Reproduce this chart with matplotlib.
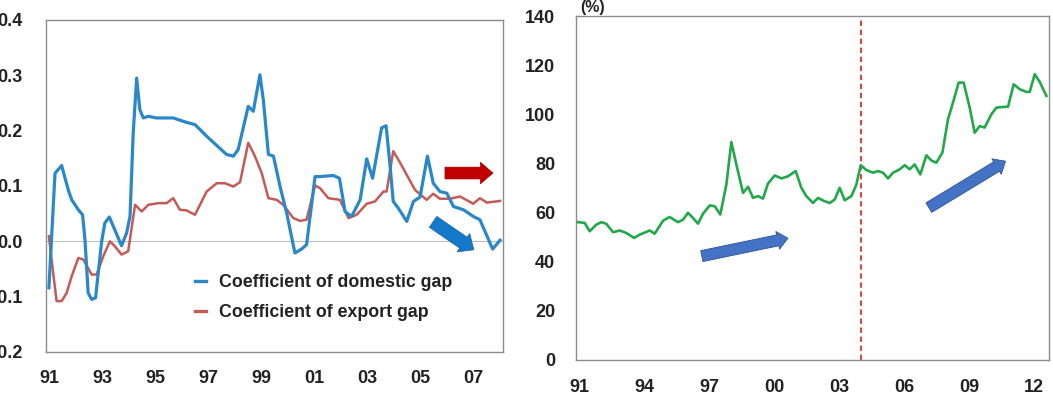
import matplotlib
matplotlib.use("Agg")
import matplotlib.pyplot as plt

# ---------------- data ----------------
dom_years = [1991.00, 1991.23, 1991.48, 1991.73, 1991.86, 1992.11, 1992.27, 1992.36, 1992.48, 1992.61,
             1992.76, 1992.99, 1993.11, 1993.28, 1993.43, 1993.74, 1993.93, 1994.06, 1994.18, 1994.31,
             1994.43, 1994.56, 1994.75, 1995.06, 1995.69, 1996.19, 1996.51, 1996.95, 1997.70, 1997.96,
             1998.14, 1998.52, 1998.71, 1998.96, 1999.09, 1999.28, 1999.47, 1999.72, 1999.97, 2000.28,
             2000.53, 2000.72, 2001.04, 2001.23, 2001.73, 2001.96, 2002.17, 2002.42, 2002.74, 2002.99,
             2003.21, 2003.55, 2003.72, 2003.87, 2003.99, 2004.18, 2004.50, 2004.75, 2005.00, 2005.28,
             2005.50, 2005.75, 2006.01, 2006.26, 2006.64, 2007.01, 2007.26, 2007.74, 2008.02]
dom_values = [-0.084, 0.123, 0.137, 0.093, 0.075, 0.057, 0.048, 0.003, -0.093, -0.105,
              -0.102, 0.000, 0.033, 0.044, 0.027, -0.008, 0.015, 0.045, 0.196, 0.295,
              0.238, 0.223, 0.226, 0.223, 0.223, 0.215, 0.211, 0.190, 0.157, 0.154,
              0.166, 0.244, 0.235, 0.301, 0.255, 0.157, 0.154, 0.099, 0.051, -0.021,
              -0.014, -0.006, 0.117, 0.117, 0.119, 0.114, 0.054, 0.045, 0.075, 0.149,
              0.114, 0.205, 0.209, 0.136, 0.072, 0.060, 0.036, 0.072, 0.080, 0.154,
              0.105, 0.090, 0.087, 0.063, 0.057, 0.045, 0.039, -0.014, 0.002]

exp_years = [1991.00, 1991.16, 1991.29, 1991.48, 1991.67, 1991.86, 1992.11, 1992.30, 1992.61, 1992.80,
             1993.05, 1993.30, 1993.49, 1993.74, 1993.99, 1994.25, 1994.50, 1994.75, 1995.13, 1995.44,
             1995.69, 1995.94, 1996.19, 1996.51, 1996.95, 1997.33, 1997.64, 1997.96, 1998.21, 1998.52,
             1998.77, 1999.03, 1999.28, 1999.59, 1999.84, 2000.22, 2000.47, 2000.72, 2001.04, 2001.23,
             2001.54, 2001.98, 2002.30, 2002.61, 2002.99, 2003.30, 2003.62, 2003.74, 2003.99, 2004.25,
             2004.50, 2004.81, 2005.25, 2005.50, 2005.75, 2006.13, 2006.51, 2007.01, 2007.26, 2007.52,
             2008.02]
exp_values = [0.009, -0.057, -0.108, -0.108, -0.093, -0.063, -0.030, -0.033, -0.060, -0.060,
              -0.027, 0.000, -0.009, -0.024, -0.018, 0.066, 0.054, 0.066, 0.069, 0.069,
              0.078, 0.057, 0.056, 0.048, 0.090, 0.105, 0.105, 0.099, 0.107, 0.178,
              0.154, 0.123, 0.078, 0.075, 0.066, 0.042, 0.037, 0.039, 0.101, 0.096,
              0.078, 0.075, 0.042, 0.048, 0.068, 0.072, 0.090, 0.090, 0.163, 0.142,
              0.120, 0.093, 0.075, 0.086, 0.077, 0.077, 0.081, 0.068, 0.078, 0.070,
              0.073]

ratio_years = [1990.95, 1991.26, 1991.49, 1991.80, 1992.03, 1992.26, 1992.57, 1992.88, 1993.18, 1993.54,
               1993.80, 1994.26, 1994.49, 1994.88, 1995.18, 1995.57, 1995.80, 1996.03, 1996.26, 1996.49,
               1996.72, 1997.03, 1997.26, 1997.52, 1997.80, 1998.03, 1998.26, 1998.57, 1998.80, 1999.03,
               1999.26, 1999.49, 1999.72, 2000.03, 2000.34, 2000.65, 2001.00, 2001.26, 2001.49, 2001.80,
               2002.03, 2002.26, 2002.57, 2002.80, 2003.03, 2003.26, 2003.57, 2003.80, 2004.00, 2004.26,
               2004.57, 2004.80, 2005.03, 2005.26, 2005.49, 2005.80, 2006.03, 2006.26, 2006.49, 2006.75,
               2007.03, 2007.26, 2007.49, 2007.77, 2008.03, 2008.26, 2008.52, 2008.75, 2009.03, 2009.26,
               2009.49, 2009.72, 2010.03, 2010.26, 2010.57, 2010.80, 2011.06, 2011.34, 2011.65, 2011.80,
               2012.03, 2012.26, 2012.57]
ratio_values = [56.1, 55.8, 52.4, 55.1, 56.1, 55.4, 52.0, 52.7, 51.7, 49.7,
                51.0, 52.7, 51.4, 56.7, 58.2, 56.1, 57.1, 59.9, 57.8, 55.5,
                59.5, 62.9, 62.6, 59.2, 71.4, 88.7, 79.6, 68.0, 70.5, 66.0,
                66.7, 65.7, 71.8, 75.1, 73.9, 74.8, 76.9, 70.1, 66.7, 63.9,
                66.0, 64.9, 63.9, 65.3, 70.1, 65.0, 66.7, 71.4, 79.3, 77.3,
                76.2, 76.9, 76.2, 73.9, 76.2, 77.6, 79.3, 77.6, 79.6, 75.5,
                83.3, 81.2, 80.3, 84.4, 98.0, 104.8, 112.9, 112.9, 102.7, 92.5,
                95.2, 94.6, 100.0, 102.7, 103.0, 103.1, 112.2, 110.2, 109.1, 109.1,
                116.3, 113.2, 107.5]

left_ticks = [1991, 1993, 1995, 1997, 1999, 2001, 2003, 2005, 2007]
left_ticklabels = ["91", "93", "95", "97", "99", "01", "03", "05", "07"]
left_yticks = [-0.2, -0.1, 0.0, 0.1, 0.2, 0.3, 0.4]
right_ticks = [1991, 1994, 1997, 2000, 2003, 2006, 2009, 2012]
right_ticklabels = ["91", "94", "97", "00", "03", "06", "09", "12"]
right_yticks = [0, 20, 40, 60, 80, 100, 120, 140]
break_year = 2004.0
legend_labels = ["Coefficient of domestic gap", "Coefficient of export gap"]

# ---------------- style ----------------
FONT = "Liberation Sans"
plt.rcParams["font.family"] = [FONT, "DejaVu Sans"]
plt.rcParams["font.weight"] = "bold"

BLUE = "#2A87C8"
RED = "#C55A57"
GREEN = "#22A84A"
SPINE = "#8C8C8C"
TXT = "#222222"

fig = plt.figure(figsize=(10.53, 3.99), dpi=100)
axL = fig.add_axes([46 / 1053, 47 / 399, 457 / 1053, 332 / 399])
axR = fig.add_axes([576 / 1053, 39 / 399, 473 / 1053, 344 / 399])

# ---- left panel ----
axL.axhline(0, color="#BDBDBD", lw=0.8, zorder=1)
axL.plot(dom_years, dom_values, color=BLUE, lw=2.3, label=legend_labels[0], zorder=3,
         solid_joinstyle="round")
axL.plot(exp_years, exp_values, color=RED, lw=1.8, label=legend_labels[1], zorder=2,
         solid_joinstyle="round")
axL.set_xlim(1990.89, 2008.13)
axL.set_ylim(-0.2, 0.4)
axL.set_xticks(left_ticks)
axL.set_xticklabels(left_ticklabels)
axL.set_yticks(left_yticks)
axL.set_yticklabels([f"{v:.1f}" for v in left_yticks])
axL.tick_params(axis="both", length=0, labelsize=13, labelcolor=TXT)
axL.tick_params(axis="y", pad=17)
axL.tick_params(axis="x", pad=13)
for s in axL.spines.values():
    s.set_color(SPINE)
    s.set_linewidth(1.0)

leg = axL.legend(loc="lower left", bbox_to_anchor=(0.29, 0.045), frameon=False,
                 handlelength=0.65, handletextpad=0.75, labelspacing=0.75,
                 prop={"family": FONT, "weight": "bold", "size": 12.8})
for t in leg.get_texts():
    t.set_color(TXT)
for h in leg.get_lines():
    h.set_linewidth(2.4)

# arrows (annotations)
axL.annotate("", xy=(0.978, 0.539), xytext=(0.873, 0.539), xycoords="axes fraction",
             arrowprops=dict(arrowstyle="simple,head_length=0.9,head_width=1.55,tail_width=0.85",
                             fc="#C00000", ec="#A00000", lw=0.5, shrinkA=0, shrinkB=0,
                             mutation_scale=10))
axL.annotate("", xy=(0.936, 0.308), xytext=(0.847, 0.392), xycoords="axes fraction",
             arrowprops=dict(arrowstyle="simple,head_length=0.9,head_width=1.6,tail_width=0.95",
                             fc="#1479C9", ec="#0F5E9E", lw=0.5, shrinkA=0, shrinkB=0,
                             mutation_scale=10))

# ---- right panel ----
axR.plot(ratio_years, ratio_values, color=GREEN, lw=1.9, zorder=3, solid_joinstyle="round")
axR.axvline(break_year, color="#E0302A", lw=1.3, ls=(0, (3, 2)), zorder=2)
axR.set_xlim(1990.86, 2012.69)
axR.set_ylim(0, 140)
axR.set_xticks(right_ticks)
axR.set_xticklabels(right_ticklabels)
axR.set_yticks(right_yticks)
axR.tick_params(axis="both", length=0, labelsize=13, labelcolor=TXT)
axR.tick_params(axis="y", pad=15)
axR.tick_params(axis="x", pad=14)
for s in axR.spines.values():
    s.set_color(SPINE)
    s.set_linewidth(1.0)
axR.text(0.009, 1.003, "(%)", transform=axR.transAxes, ha="left", va="bottom",
         fontsize=11.5, fontweight="bold", color=TXT)

axR.annotate("", xy=(0.448, 0.354), xytext=(0.266, 0.302), xycoords="axes fraction",
             arrowprops=dict(arrowstyle="simple,head_length=0.75,head_width=1.3,tail_width=0.8",
                             fc="#4472C4", ec="#2F528F", lw=0.6, shrinkA=0, shrinkB=0,
                             mutation_scale=10))
axR.annotate("", xy=(0.908, 0.578), xytext=(0.746, 0.443), xycoords="axes fraction",
             arrowprops=dict(arrowstyle="simple,head_length=0.75,head_width=1.3,tail_width=0.8",
                             fc="#4472C4", ec="#2F528F", lw=0.6, shrinkA=0, shrinkB=0,
                             mutation_scale=10))

fig.savefig("out.png", dpi=100)
